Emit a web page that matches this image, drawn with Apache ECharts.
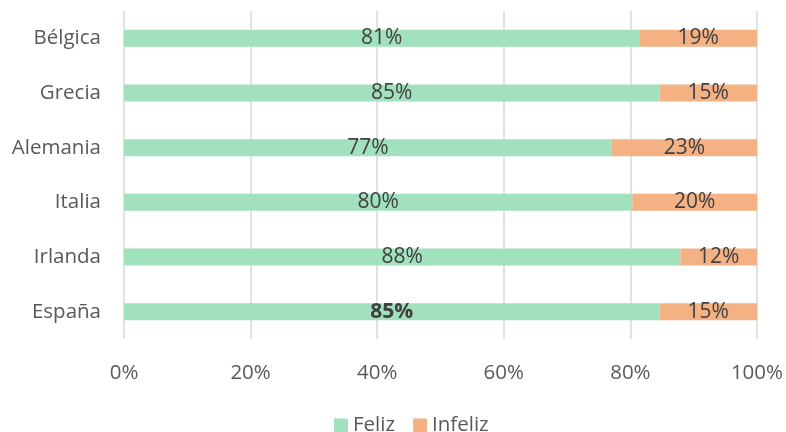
<!DOCTYPE html>
<html><head><meta charset="utf-8">
<script src="https://cdn.jsdelivr.net/npm/echarts@6/dist/echarts.min.js"></script>
<style>html,body{margin:0;padding:0;background:#fff}#c{width:786px;height:432px}</style>
</head><body><div id="c"></div>
<script>
const categories = ['Bélgica', 'Grecia', 'Alemania', 'Italia', 'Irlanda', 'España'];
const feliz = [81.4, 84.6, 77.1, 80.3, 87.9, 84.6];
const infeliz = [18.6, 15.4, 22.9, 19.7, 12.1, 15.4];
const xTicks = [0, 20, 40, 60, 80, 100];
const boldCategory = 'España';

const FONT = "'Open Sans', 'Noto Sans', sans-serif";
const lbl = {show: true, position: 'inside', color: '#404040', fontSize: 21, fontFamily: FONT,
  formatter: p => Math.round(p.value) + '%'};

function items(vals) {
  return vals.map((v, i) => categories[i] === boldCategory
    ? {value: v, label: {fontWeight: 'bold'}} : v);
}

const chart = echarts.init(document.getElementById('c'), null, {renderer: 'canvas'});
chart.setOption({
  animation: false,
  textStyle: {fontFamily: FONT},
  grid: {left: 124, right: 29, top: 11, bottom: 93, containLabel: false},
  legend: {
    left: 329, top: 410, itemWidth: 14, itemHeight: 14, itemGap: 18,
    icon: 'rect',
    textStyle: {color: '#595959', fontSize: 20.5, fontFamily: FONT},
    data: ['Feliz', 'Infeliz']
  },
  xAxis: {
    type: 'value', min: xTicks[0], max: xTicks[xTicks.length - 1], interval: 20,
    axisLine: {show: false}, axisTick: {show: false},
    splitLine: {lineStyle: {color: '#D9D9D9', width: 1.5}},
    axisLabel: {formatter: '{value}%', color: '#595959', fontSize: 20.5, margin: 24, fontFamily: FONT}
  },
  yAxis: {
    type: 'category', data: categories, inverse: true,
    axisLine: {show: false}, axisTick: {show: false},
    axisLabel: {color: '#595959', fontSize: 20.5, margin: 23, fontFamily: FONT}
  },
  series: [
    {name: 'Feliz', type: 'bar', stack: 'a', data: items(feliz), barWidth: '31%',
      itemStyle: {color: '#A1E1BD'}, label: lbl},
    {name: 'Infeliz', type: 'bar', stack: 'a', data: infeliz, barWidth: '31%',
      itemStyle: {color: '#F4B183'}, label: lbl}
  ]
});
</script></body></html>
